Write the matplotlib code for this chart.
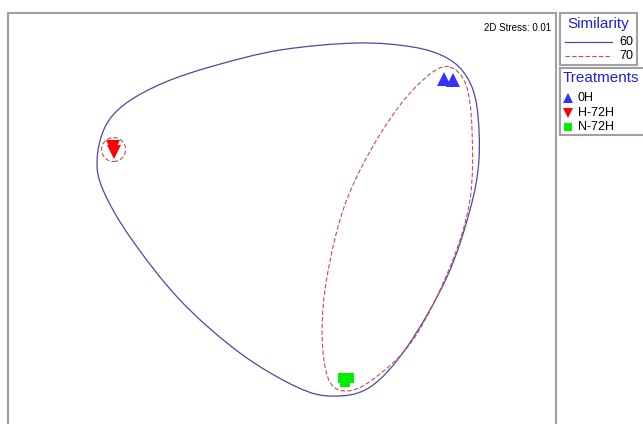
import numpy as np
import matplotlib
matplotlib.use("Agg")
import matplotlib.pyplot as plt
from matplotlib.path import Path
from matplotlib.patches import PathPatch, Circle

plt.rcParams['font.family'] = ['Liberation Sans', 'DejaVu Sans']

## nMDS coordinates of the samples
treatments = ["0H", "H-72H", "N-72H"]
mds_0h = [(0.96, 1.01), (1.02, 1.00)]
mds_h72 = [(-1.247, 0.553), (-1.24, 0.52)]
mds_n72 = [(0.287, -0.987), (0.327, -0.987), (0.30, -1.013)]
stress = 0.01

## similarity contours (outline vertices of each cluster group)
sim_levels = [60, 70]
contour_60 = [(0.38, 1.247), (0.753, 1.22), (0.98, 1.147), (1.113, 1.02),
              (1.18, 0.82), (1.193, 0.467), (1.133, 0.133), (0.98, -0.313),
              (0.713, -0.78), (0.467, -1.047), (0.22, -1.107), (-0.02, -1.047),
              (-0.4, -0.82), (-0.8, -0.467), (-1.133, -0.047), (-1.313, 0.267),
              (-1.353, 0.467), (-1.3, 0.687), (-1.167, 0.84), (-0.913, 0.98),
              (-0.58, 1.093), (-0.133, 1.2)]
contour_70 = [(1.0, 1.087), (1.107, 0.967), (1.147, 0.667), (1.133, 0.2),
              (1.0, -0.247), (0.753, -0.733), (0.48, -1.0), (0.3, -1.073),
              (0.187, -0.987), (0.147, -0.687), (0.18, -0.313), (0.287, 0.133),
              (0.453, 0.5), (0.667, 0.833), (0.867, 1.04)]
ring_70_center = (-1.243, 0.537)
ring_70_radius = 0.08

styles = {
    "0H": dict(marker="^", color="#3333ff", ms=10),
    "H-72H": dict(marker="v", color="#ff0000", ms=10),
    "N-72H": dict(marker="s", color="#00ee00", ms=7.2),
}
col_60 = "#4a4aa0"
col_70 = "#c05050"
frame_col = "#a0a0a0"
title_col = "#2020e0"


def closed_smooth_path(pts):
    ## closed Catmull-Rom outline converted to cubic bezier segments
    p = np.asarray(pts, dtype=float)
    n = len(p)
    verts = [p[0]]
    codes = [Path.MOVETO]
    for i in range(n):
        p0, p1, p2, p3 = p[i - 1], p[i], p[(i + 1) % n], p[(i + 2) % n]
        verts += [p1 + (p2 - p0) / 6.0, p2 - (p3 - p1) / 6.0, p2]
        codes += [Path.CURVE4] * 3
    return Path(verts, codes)


fig = plt.figure(figsize=(6.43, 4.24), dpi=100)

## main ordination panel
ax = fig.add_axes([8 / 643, -6 / 424, 548 / 643, 417 / 424])
ax.set_xlim(-1.947, 1.707)
ax.set_ylim(-1.333, 1.447)
ax.set_xticks([]), ax.set_yticks([])
for s in ax.spines.values():
    s.set_color(frame_col)
    s.set_linewidth(1.5)

ax.add_patch(PathPatch(closed_smooth_path(contour_60), fill=False,
                       edgecolor=col_60, lw=0.9))
ax.add_patch(PathPatch(closed_smooth_path(contour_70), fill=False,
                       edgecolor=col_70, lw=0.8, linestyle=(0, (4, 2))))
ax.add_patch(Circle(ring_70_center, ring_70_radius, fill=False,
                    edgecolor=col_70, lw=0.8, linestyle=(0, (4, 2))))

for name, pts in zip(treatments, [mds_0h, mds_h72, mds_n72]):
    pts = np.array(pts)
    st = styles[name]
    ax.plot(pts[:, 0], pts[:, 1], linestyle="none", marker=st["marker"],
            color=st["color"], ms=st["ms"], markeredgewidth=0)

ax.text(0.992, 0.975, "2D Stress: %.2f" % stress, transform=ax.transAxes,
        ha="right", va="top", fontsize=7)

## similarity legend box
lg1 = fig.add_axes([560 / 643, 1 - 65 / 424, 77 / 643, 52 / 424])
lg1.set_xlim(0, 77), lg1.set_ylim(52, 0)
lg1.set_xticks([]), lg1.set_yticks([])
for s in lg1.spines.values():
    s.set_color(frame_col)
    s.set_linewidth(1.5)
lg1.text(38, 11, "Similarity", color=title_col, fontsize=11,
         ha="center", va="center")
lg1.plot([5, 52], [29, 29], color=col_60, lw=0.9)
lg1.plot([5, 52], [43, 43], color=col_70, lw=0.8, linestyle=(0, (4, 2)))
for yy, lvl in zip([29, 43], sim_levels):
    lg1.text(73, yy, str(lvl), fontsize=9, ha="right", va="center")

## treatments legend box
lg2 = fig.add_axes([560 / 643, 1 - 135 / 424, 90 / 643, 67 / 424])
lg2.set_xlim(0, 90), lg2.set_ylim(67, 0)
lg2.set_xticks([]), lg2.set_yticks([])
for s in lg2.spines.values():
    s.set_color(frame_col)
    s.set_linewidth(1.5)
lg2.text(3, 10, "Treatments", color=title_col, fontsize=11,
         ha="left", va="center")
for i, name in enumerate(treatments):
    yy = 30 + i * 14.5
    st = styles[name]
    lg2.plot([8], [yy], linestyle="none", marker=st["marker"],
             color=st["color"], ms=st["ms"] * 0.75, markeredgewidth=0)
    lg2.text(18, yy, name, fontsize=9, ha="left", va="center")

fig.savefig("out.png", dpi=100)
